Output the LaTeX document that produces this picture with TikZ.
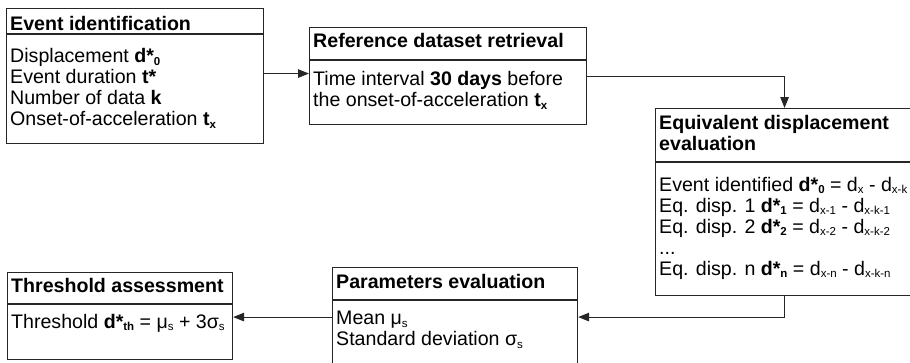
\documentclass[tikz,border=0pt]{standalone}
\usepackage{fontspec}
\setmainfont{Liberation Sans}
\usetikzlibrary{arrows.meta,calc}
\newcommand\lowsub[1]{\raisebox{-2.8pt}{\fontsize{11.5}{11.5}\selectfont #1}}
\begin{document}
\begin{tikzpicture}[x=1pt,y=-1pt,
  box/.style={draw=black!85, line width=1.1pt, inner sep=0pt, anchor=north west},
  divl/.style={draw=black!85, line width=1.1pt},
  txt/.style={inner sep=0pt, anchor=base west, font=\fontsize{19.6}{21}\selectfont},
  arr/.style={draw=black!85, line width=1.1pt, -{Triangle[length=11pt,width=8.5pt]}},
]
\useasboundingbox (0,0) rectangle (910,362);
\clip (0,0) rectangle (910,362);

% boxes
\node[box, minimum width=257pt, minimum height=135pt] (b1) at (6,8) {};
\node[box, minimum width=277pt, minimum height=97pt] (b2) at (309,27) {};
\node[box, minimum width=258pt, minimum height=187pt] (b3) at (655,108) {};
\node[box, minimum width=245pt, minimum height=99pt] (b4) at (332,267) {};
\node[box, minimum width=225pt, minimum height=87pt] (b5) at (7,272) {};

% dividers
\draw[divl] ([yshift=-26pt]b1.north west) -- ([yshift=-26pt]b1.north east);
\draw[divl] ([yshift=-33pt]b2.north west) -- ([yshift=-33pt]b2.north east);
\draw[divl] ([yshift=-54pt]b3.north west) -- ([yshift=-54pt]b3.north east);
\draw[divl] ([yshift=-33pt]b4.north west) -- ([yshift=-33pt]b4.north east);
\draw[divl] ([yshift=-32pt]b5.north west) -- ([yshift=-32pt]b5.north east);

% box 1 text
\node[txt] (t1h) at (10,30) {\textbf{Event identification}};
\node[txt] (t1a) at (10,62.5) {Displacement \textbf{d*\lowsub{0}}};
\node[txt] (t1b) at (10,83.5) {Event duration \textbf{t*}};
\node[txt] (t1c) at (10,104.5) {Number of data \textbf{k}};
\node[txt] (t1d) at (10,125.5) {Onset-of-acceleration \textbf{t\lowsub{x}}};

% box 2 text
\node[txt] (t2h) at (313,47.5) {\textbf{Reference dataset retrieval}};
\node[txt] (t2a) at (313,85.5) {Time interval \textbf{30 days} before};
\node[txt] (t2b) at (313,106.5) {the onset-of-acceleration \textbf{t\lowsub{x}}};

% box 3 text
\node[txt] (t3h) at (659,129.5) {\textbf{Equivalent displacement}};
\node[txt] (t3i) at (659,150.5) {\textbf{evaluation}};
\node[txt] (t3a) at (659,191) {Event identified \textbf{d*\lowsub{0}} = d\lowsub{x} - d\lowsub{x-k}};
\node[txt] (t3b) at (659,212) {Eq. disp. 1 \textbf{d*\lowsub{1}} = d\lowsub{x-1} - d\lowsub{x-k-1}};
\node[txt] (t3c) at (659,233) {Eq. disp. 2 \textbf{d*\lowsub{2}} = d\lowsub{x-2} - d\lowsub{x-k-2}};
\node[txt] (t3d) at (659,254) {...};
\node[txt] (t3e) at (659,275) {Eq. disp. n \textbf{d*\lowsub{n}} = d\lowsub{x-n} - d\lowsub{x-k-n}};

% box 4 text
\node[txt] (t4h) at (336,288) {\textbf{Parameters evaluation}};
\node[txt] (t4a) at (336,324.5) {Mean μ\lowsub{s}};
\node[txt] (t4b) at (336,345.5) {Standard deviation σ\lowsub{s}};

% box 5 text
\node[txt] (t5h) at (11,292.5) {\textbf{Threshold assessment}};
\node[txt] (t5a) at (11,328) {Threshold \textbf{d*\lowsub{th}} = μ\lowsub{s} + 3σ\lowsub{s}};

% connectors
\draw[arr] ([yshift=2.5pt]b1.east) -- ([yshift=2.5pt]b2.west);
\draw[arr] (b2.east) -| (b3.north);
\draw[arr] (b3.south) |- (b4.east);
\draw[arr] (b4.west) -- (b4.west -| b5.east);
\end{tikzpicture}
\end{document}
